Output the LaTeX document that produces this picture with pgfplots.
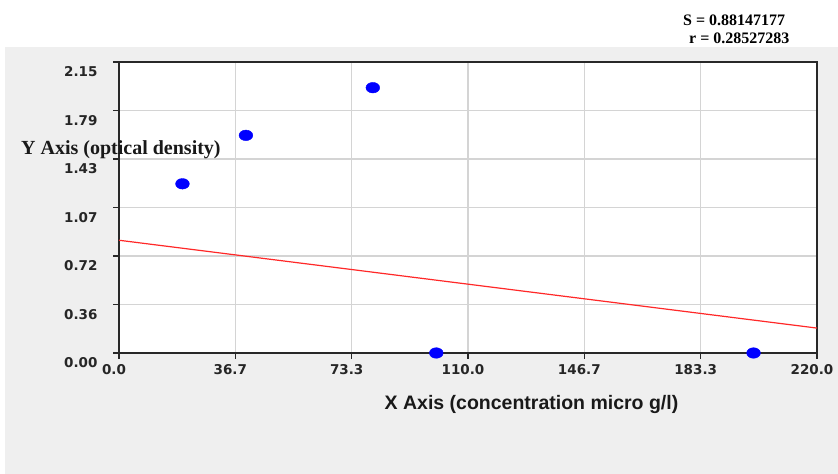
\documentclass[border=0pt]{standalone}
\usepackage{fontspec}
\usepackage{pgfplots}
\pgfplotsset{compat=1.18}
\newfontfamily\tickfont{DejaVu Sans}
\newfontfamily\xlabfont{Liberation Sans}
\newfontfamily\serifb{Liberation Serif}
\definecolor{panel}{RGB}{239,239,239}
\definecolor{gridc}{RGB}{212,212,212}
\definecolor{frame}{RGB}{40,40,40}
\definecolor{ptblue}{RGB}{0,0,255}
\definecolor{lred}{RGB}{255,40,40}
\begin{document}
\begin{tikzpicture}[x=1bp,y=1bp]
\useasboundingbox (0,0) rectangle (838,474);
\fill[white] (0,0) rectangle (838,474);
\fill[panel] (5,0) rectangle (838,427);
\begin{axis}[
  at={(119bp,121bp)}, anchor=south west,
  width=698bp, height=291bp, scale only axis,
  xmin=0, xmax=220, ymin=0, ymax=2.15,
  axis background/.style={fill=white},
  axis line style={frame, line width=1.6bp},
  xtick={0,36.6667,73.3333,110,146.6667,183.3333,220},
  xticklabels={0.0,36.7,73.3,110.0,146.7,183.3,220.0},
  ytick={0,0.358333,0.716667,1.075,1.433333,1.791667,2.15},
  yticklabels={0.00,0.36,0.72,1.07,1.43,1.79,2.15},
  minor x tick num=3, minor y tick num=3,
  tick align=outside, tick pos=left,
  major tick length=6bp, minor tick length=4bp,
  every tick/.style={frame, line width=1.1bp},
  grid=major,
  major grid style={gridc, line width=1.4bp},
  xticklabel style={font=\tickfont\bfseries\fontsize{13.5bp}{15bp}\selectfont, xshift=-5bp, yshift=-2bp, text=black!85},
  yticklabel style={font=\tickfont\bfseries\fontsize{13.5bp}{15bp}\selectfont, yshift=-10bp, xshift=-12bp, text=black!85},
  clip=false,
]
\addplot[only marks, mark=*, mark size=5.3bp, mark options={ptblue, xscale=1.3}] coordinates {
  (20,1.25) (40,1.608) (80,1.96) (100,0) (200,0)
};
\addplot[lred, line width=1.2bp] coordinates {(0,0.833) (220,0.184)};
\end{axis}
\node[anchor=west, inner sep=0, font=\serifb\bfseries\fontsize{20bp}{22bp}\selectfont, text=black!90] at (21,324) {Y Axis (optical density)};
\node[inner sep=0, font=\xlabfont\bfseries\fontsize{19.5bp}{22bp}\selectfont, text=black!90] at (531.5,69) {X Axis (concentration micro g/l)};
\node[anchor=west, inner sep=0, font=\serifb\bfseries\fontsize{16bp}{18bp}\selectfont] at (683,454) {S = 0.88147177};
\node[anchor=west, inner sep=0, font=\serifb\bfseries\fontsize{16bp}{18bp}\selectfont] at (689,436) {r = 0.28527283};
\end{tikzpicture}
\end{document}
